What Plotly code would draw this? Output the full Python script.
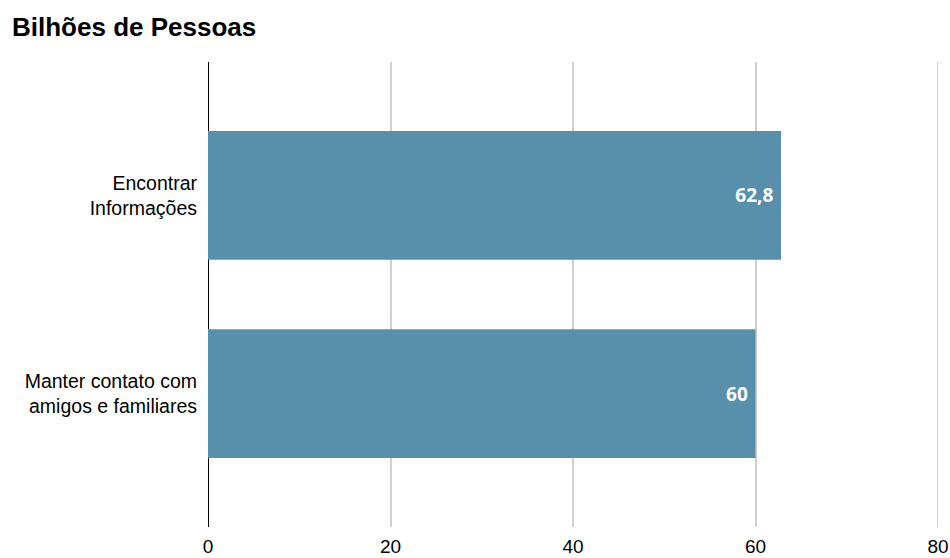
import plotly.graph_objects as go

categories = ["Encontrar<br>Informações", "Manter contato com<br>amigos e familiares"]
values = [62.8, 60]
x_ticks = [0, 20, 40, 60, 80]

fig = go.Figure(go.Bar(
    x=values,
    y=categories,
    orientation="h",
    marker=dict(color="#5890ab", line=dict(width=0)),
    width=0.65,
    texttemplate="%{x}\u2005",
    textposition="inside",
    insidetextanchor="end",
    textfont=dict(family="Open Sans", size=19, color="white", weight="bold"),
    cliponaxis=False,
))

fig.update_layout(
    width=950, height=558,
    margin=dict(l=208, r=12, t=62, b=31, autoexpand=False),
    paper_bgcolor="white", plot_bgcolor="white",
    separators=",.",
    showlegend=False,
    title=dict(text="<b>Bilhões de Pessoas</b>", x=12/950, xanchor="left", xref="container",
               y=1 - 27/558, yanchor="middle", yref="container",
               font=dict(family="Liberation Sans, Arial", size=26, color="black")),
    font=dict(family="Liberation Sans, Arial", size=19.5, color="black"),
)
# gridline at the axis end (plotly drops grid lines lying on the plot edge)
fig.add_shape(type="line", xref="x", yref="paper", x0=x_ticks[-1], x1=x_ticks[-1],
              y0=0, y1=1, line=dict(color="#d0d0d0", width=2), layer="below")
fig.update_xaxes(
    range=[0, 80], tickvals=x_ticks, showgrid=True, gridcolor="#d0d0d0", gridwidth=2,
    zeroline=True, zerolinecolor="black", zerolinewidth=1,
    showline=False, ticks="", ticklabelstandoff=6, automargin=False,
    tickfont=dict(size=19, color="black"),
)
fig.update_yaxes(
    range=[1.674, -0.674], showgrid=False, zeroline=False, showline=False,
    ticks="", ticklabelstandoff=10, automargin=False,
    tickfont=dict(size=19.5, color="black"),
)

fig.write_html("out.html")
